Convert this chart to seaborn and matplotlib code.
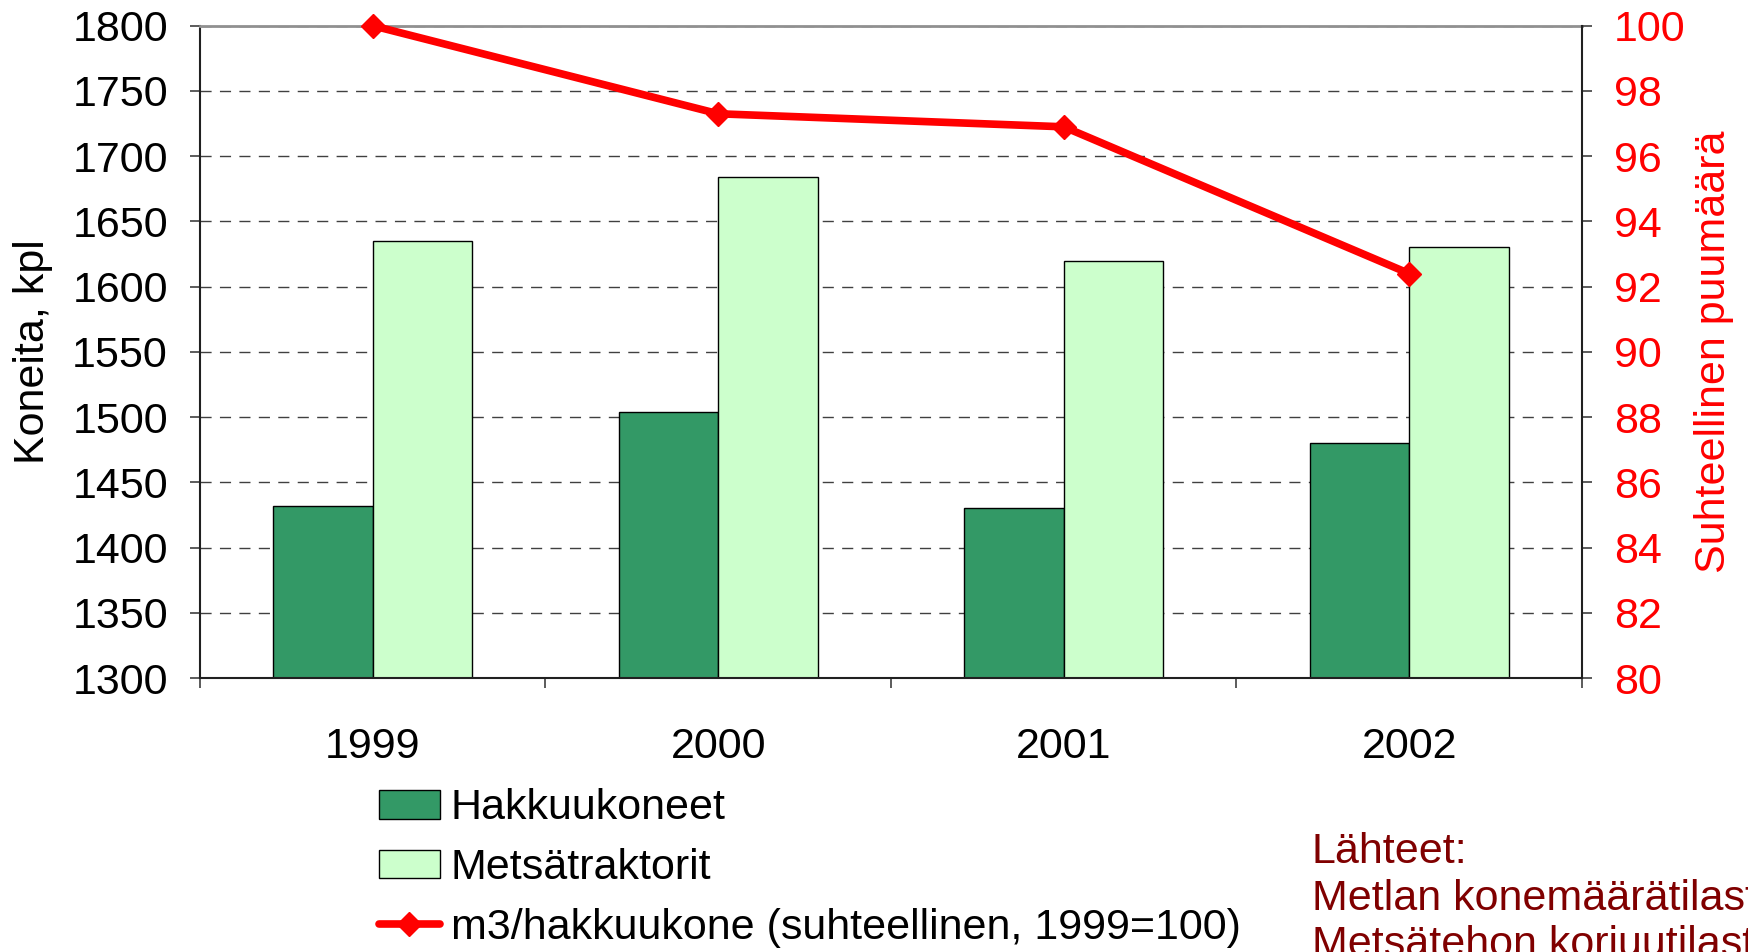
import pandas as pd
import seaborn as sns
import matplotlib.pyplot as plt
from matplotlib.patches import Patch
from matplotlib.lines import Line2D
from matplotlib.ticker import MultipleLocator, FixedLocator

# Data
years = ["1999", "2000", "2001", "2002"]
harvesters = [1432, 1504, 1430, 1480]
forwarders = [1635, 1684, 1620, 1630]
relative_volume = [100.0, 97.3, 96.9, 92.4]

series_names = ["Hakkuukoneet", "Metsätraktorit"]
line_name = "m3/hakkuukone (suhteellinen, 1999=100)"
sources = "Lähteet:\nMetlan konemäärätilastot\nMetsätehon korjuutilastot"

sns.set_theme(style="white")
plt.rcParams["font.family"] = ["Liberation Sans", "DejaVu Sans"]
plt.rcParams["text.color"] = "black"
plt.rcParams["axes.labelcolor"] = "black"
plt.rcParams["xtick.color"] = "black"
plt.rcParams["ytick.color"] = "black"

FS = 31
bar_colors = ["#339966", "#CCFFCC"]

df = pd.DataFrame({
    "Vuosi": years * 2,
    "Koneita": harvesters + forwarders,
    "Tyyppi": [series_names[0]] * len(years) + [series_names[1]] * len(years),
})

fig = plt.figure(figsize=(17.49, 9.52), dpi=100)
ax = fig.add_axes([0.1143, 0.2878, 0.7902, 0.6852])

sns.barplot(data=df, x="Vuosi", y="Koneita", hue="Tyyppi", order=years,
            hue_order=series_names, palette=bar_colors, saturation=1,
            width=0.575, edgecolor="black", linewidth=1, legend=False,
            errorbar=None, ax=ax)

ax2 = ax.twinx()
sns.pointplot(x=years, y=relative_volume, color="red", marker="D",
              markersize=12, markeredgewidth=1, linewidth=5.5,
              errorbar=None, ax=ax2)
for ln in ax2.lines:
    ln.set_clip_on(False)

# Left axis
ax.set_xlim(-0.5, len(years) - 0.5)
ax.set_ylim(1300, 1800)
ax.yaxis.set_major_locator(MultipleLocator(50))
ax.set_xlabel("")
ax.set_ylabel("Koneita, kpl", fontsize=FS, labelpad=14, color="black")
ax.grid(axis="y", linestyle=(0, (8, 6)), color="#404040", linewidth=1)
ax.set_axisbelow(True)
ax.tick_params(axis="y", which="major", direction="out", length=7, width=1.2,
               color="#404040", labelcolor="black", labelsize=FS, pad=16, left=True)
ax.set_xticks(range(len(years)))
ax.set_xticklabels(years)
ax.xaxis.set_minor_locator(FixedLocator([i - 0.5 for i in range(len(years) + 1)]))
ax.tick_params(axis="x", which="major", length=0, labelsize=FS, pad=35,
               labelcolor="black")
ax.tick_params(axis="x", which="minor", direction="out", length=7, width=1.2,
               color="#404040", bottom=True)
for side in ["left", "bottom"]:
    ax.spines[side].set_color("#202020")
    ax.spines[side].set_linewidth(1.5)
ax.spines["top"].set_color("#909090")
ax.spines["top"].set_linewidth(2)
ax.spines["right"].set_visible(False)

# Right axis
ax2.set_ylim(80, 100)
ax2.yaxis.set_major_locator(MultipleLocator(2))
ax2.set_ylabel("Suhteellinen puumäärä", color="red", fontsize=FS, labelpad=6)
ax2.tick_params(axis="y", direction="out", length=7, width=1.2, color="#404040",
                labelcolor="red", labelsize=FS, pad=16, right=True)
for side in ["top", "left", "bottom"]:
    ax2.spines[side].set_visible(False)
ax2.spines["right"].set_color("#202020")
ax2.spines["right"].set_linewidth(1.5)

# Legend below the chart
handles = [
    Patch(facecolor=bar_colors[0], edgecolor="black", linewidth=1),
    Patch(facecolor=bar_colors[1], edgecolor="black", linewidth=1),
    Line2D([], [], color="red", linewidth=5.5, marker="D", markersize=12),
]
fig.legend(handles, series_names + [line_name], loc="upper left",
           bbox_to_anchor=(0.207, 0.190), frameon=False, fontsize=FS,
           handlelength=1.4, handleheight=0.65, handletextpad=0.26,
           labelspacing=0.46, borderaxespad=0, borderpad=0.4)

fig.text(0.750, 0.056, sources, color="#800000", fontsize=FS,
         ha="left", va="center", linespacing=1.2)

fig.savefig("out.png", dpi=100)
